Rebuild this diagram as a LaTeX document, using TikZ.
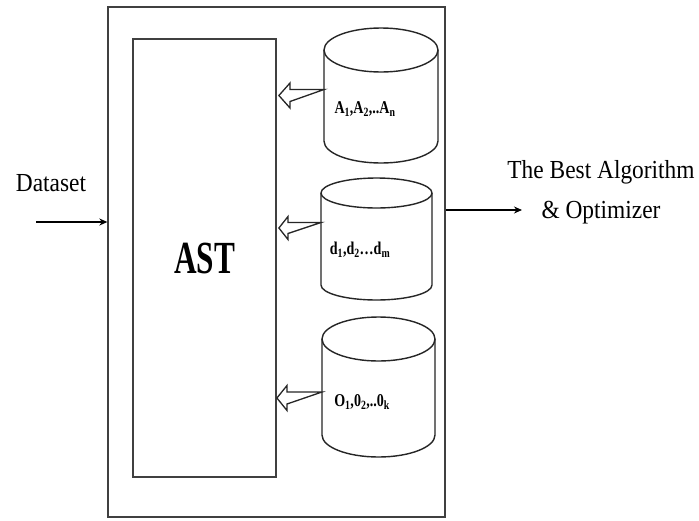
\documentclass[tikz,border=0pt]{standalone}
\usepackage{fontspec}
\setmainfont{Liberation Serif}
\usetikzlibrary{arrows.meta,calc}
\tikzset{
  frame/.style={draw=black!75, line width=1.3pt, inner sep=0pt},
  astbox/.style={draw=black!75, line width=1.8pt, inner sep=0pt},
  cyl/.style={draw=black!85, line width=1.4pt},
  hollow/.style={draw=black!85, line width=1.3pt, fill=white, line join=miter},
  flow/.style={draw=black, line width=1.6pt, -{Stealth[length=8pt,width=7pt]}},
  bigtxt/.style={font=\fontsize{26}{40}\selectfont, align=center, inner sep=0pt},
  dbtxt/.style={font=\bfseries\fontsize{18}{20}\selectfont, inner sep=0pt}
}
\newcommand{\mycyl}[6]{%
  % #1 name, #2 cx, #3 rx, #4 top cy, #5 ry, #6 bottom cy
  \draw[cyl] (#2-#3,#4) -- (#2-#3,#6) arc[start angle=180, end angle=0, x radius=#3, y radius=#5] -- (#2+#3,#4);
  \draw[cyl] (#2,#4) ellipse[x radius=#3, y radius=#5];
  \coordinate (#1) at (#2-#3,0);
}
\begin{document}
\begin{tikzpicture}[x=1pt,y=-1pt]
\useasboundingbox (0,0) rectangle (699,520);
\fill[white] (0,0) rectangle (699,520);
\node[frame, minimum width=337pt, minimum height=510pt] (outer) at (276.5,262) {};
\node[astbox, minimum width=143pt, minimum height=438pt] (ast) at (204.5,258)
  {\scalebox{0.68}[1]{\bfseries\fontsize{46}{50}\selectfont AST}};

\mycyl{c1}{381}{57}{50}{22}{141}
\mycyl{c2}{376.5}{55.5}{193}{15}{285}
\mycyl{c3}{378.5}{56.5}{339}{22}{435}

\node[dbtxt] (l1) at (365,109) {\scalebox{0.78}[1]{A\textsubscript{1},A\textsubscript{2},..A\textsubscript{n}}};
\node[dbtxt] (l2) at (360,250) {\scalebox{0.78}[1]{d\textsubscript{1},d\textsubscript{2}\ldots d\textsubscript{m}}};
\node[dbtxt] (l3) at (362,402) {\scalebox{0.78}[1]{O\textsubscript{1},0\textsubscript{2},..0\textsubscript{k}}};

% hollow arrows from each cylinder to AST
\coordinate (a1) at (c1 |- 0,95.5);
\draw[hollow] ($(a1)+(0,-6)$) -- ++(-34,0) -- ++(0,-6.5) -- ($(ast.east |- a1)+(2,0)$) -- ($(a1)+(-34,12.5)$) -- ++(0,-6.5) -- cycle;
\coordinate (a2) at (c2 |- 0,228);
\draw[hollow] ($(a2)+(0,-5.5)$) -- ++(-33,0) -- ++(0,-6) -- ($(ast.east |- a2)+(2,0)$) -- ($(a2)+(-33,11.5)$) -- ++(0,-6) -- cycle;
\coordinate (a3) at (c3 |- 0,398);
\draw[hollow] ($(a3)+(0,-6)$) -- ++(-35,0) -- ++(0,-6.5) -- ($(ast.east |- a3)+(0,0)$) -- ($(a3)+(-35,12.5)$) -- ++(0,-6.5) -- cycle;

% input and output
\node[bigtxt] (ds) at (51,183) {\scalebox{0.9}[1]{Dataset}};
\coordinate (dsstart) at (36,222);
\draw[flow] (dsstart) -- (dsstart -| outer.west);
\node[bigtxt] (res) at (601,192) {\scalebox{0.9}[1]{The Best Algorithm}\\ \scalebox{0.9}[1]{\& Optimizer}};
\coordinate (resend) at (522,210);
\draw[flow] (outer.east |- resend) -- (resend);
\end{tikzpicture}
\end{document}
